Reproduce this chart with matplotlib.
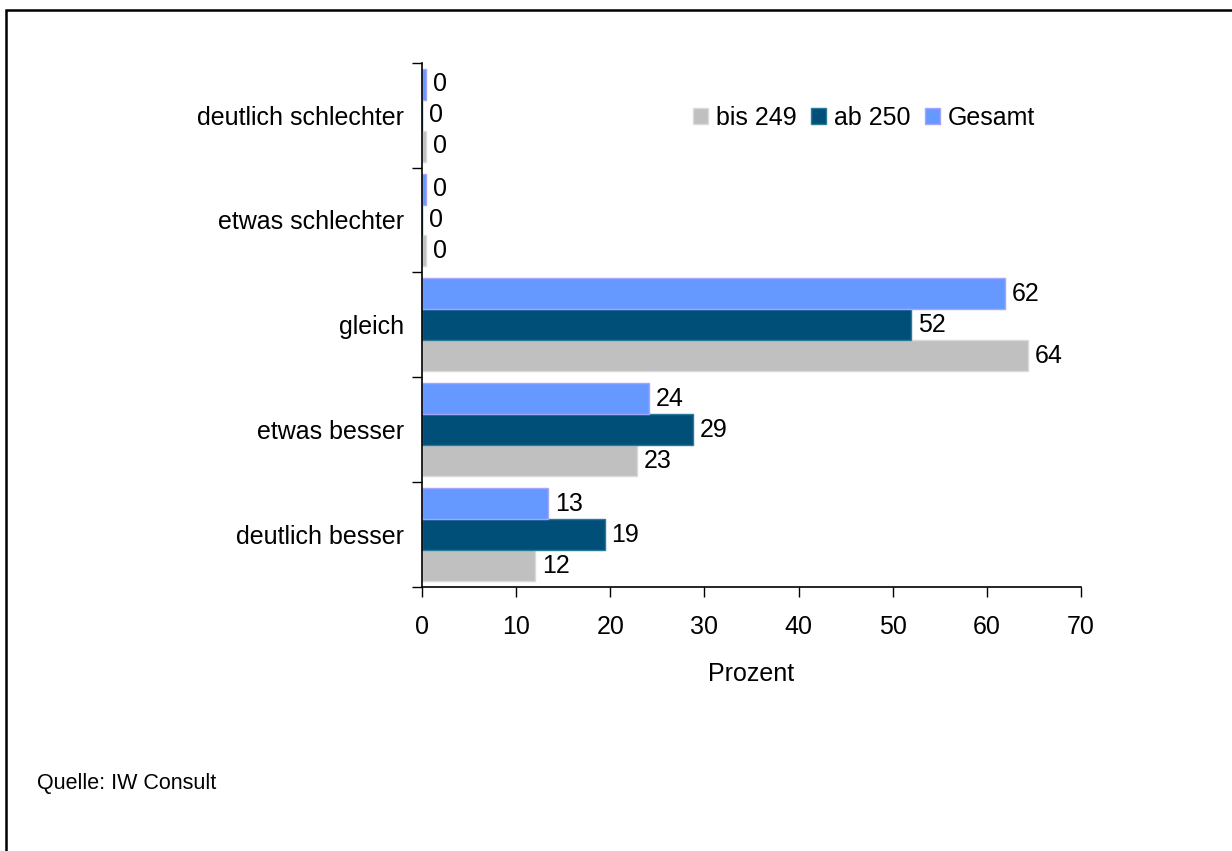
import matplotlib
matplotlib.use('Agg')
import matplotlib.pyplot as plt
from matplotlib.patches import Rectangle
import numpy as np

plt.rcParams['font.family'] = ['Liberation Sans', 'DejaVu Sans']

# Daten
kategorien = ['deutlich schlechter', 'etwas schlechter', 'gleich', 'etwas besser', 'deutlich besser']
bis_249 = [0.4, 0.4, 64.4, 22.8, 12.0]
ab_250 = [0.0, 0.0, 51.9, 28.8, 19.4]
gesamt = [0.4, 0.4, 61.9, 24.1, 13.4]
x_ticks = [0, 10, 20, 30, 40, 50, 60, 70]

fs = 18

fig = plt.figure(figsize=(12.32, 8.51), dpi=100)

# Rahmen um die Grafik (rechts/unten abgeschnitten)
fig.patches.append(Rectangle((6 / 1232, -0.05), 1.2, 1 - 10 / 851 + 0.05,
                             transform=fig.transFigure, fill=False,
                             edgecolor='black', linewidth=1.8, clip_on=False))

ax = fig.add_axes([422 / 1232, 1 - 587 / 851, (1081 - 422) / 1232, (587 - 62.7) / 851])

n = len(kategorien)
y = np.arange(n)[::-1]
h = 0.295

b_bis = ax.barh(y - h, bis_249, height=h, color='#C0C0C0', edgecolor='#DADADA',
                linewidth=1, label='bis 249')
b_ab = ax.barh(y, ab_250, height=h, color='#004F79', edgecolor='#2A7A9A',
               linewidth=1, label='ab 250')
b_ges = ax.barh(y + h, gesamt, height=h, color='#6699FF', edgecolor='#A5A5FF',
                linewidth=1, label='Gesamt')

for bars in (b_ges, b_ab, b_bis):
    ax.bar_label(bars, fmt='%.0f', padding=5, fontsize=fs)

ax.set_xlim(0, 70)
ax.set_ylim(-0.5, n - 0.5)
ax.set_xticks(x_ticks)
ax.set_xticklabels([str(t) for t in x_ticks], fontsize=fs)
ax.set_yticks(np.arange(n + 1) - 0.5)
ax.set_yticklabels([])
ax.set_yticks(y, minor=True)
ax.set_yticklabels(kategorien, minor=True, fontsize=fs)
ax.tick_params(axis='y', which='minor', length=0, pad=13)
ax.tick_params(axis='y', which='major', length=7, width=1, direction='out')
ax.tick_params(axis='x', length=7, width=1, direction='out', pad=13)

for s in ['top', 'right']:
    ax.spines[s].set_visible(False)
ax.spines['left'].set_linewidth(1.2)
ax.spines['bottom'].set_linewidth(1.2)

ax.set_xlabel('Prozent', fontsize=fs, labelpad=17)

fig.legend(handles=[b_bis, b_ab, b_ges], loc='center',
           bbox_to_anchor=(864 / 1232, 1 - 118 / 851), ncol=3, frameon=False,
           fontsize=fs, handlelength=0.6, handleheight=0.6, handletextpad=0.3,
           columnspacing=0.6)

fig.text(37 / 1232, 1 - 784 / 851, 'Quelle: IW Consult', fontsize=15.5, va='center', ha='left')

fig.savefig('out.png', dpi=100)
